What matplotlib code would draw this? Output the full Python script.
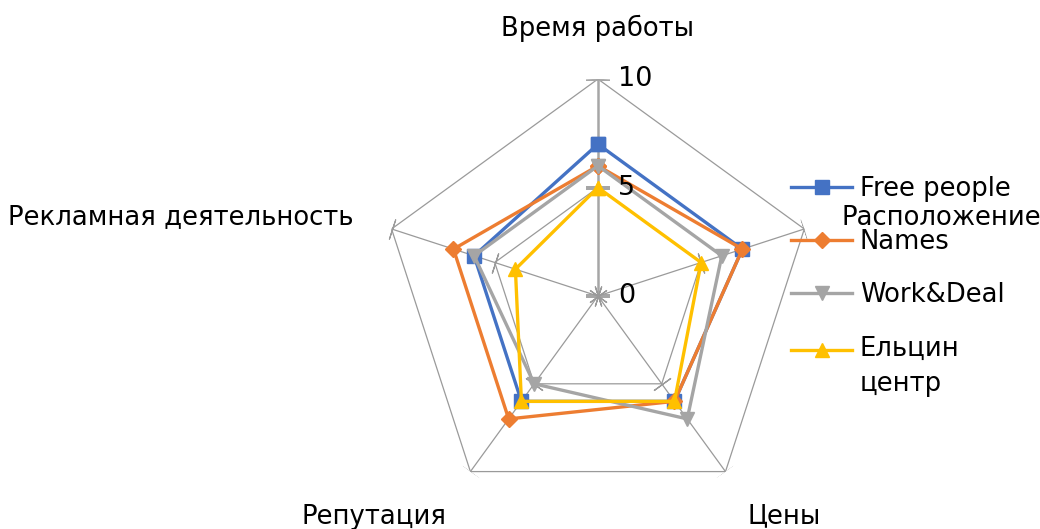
import numpy as np
import matplotlib
matplotlib.use("Agg")
import matplotlib.pyplot as plt
from matplotlib.transforms import offset_copy

categories = ["Время работы", "Расположение", "Цены", "Репутация", "Рекламная деятельность"]
series_names = ["Free people", "Names", "Work&Deal", "Ельцин центр"]
free_people = [7, 7, 6, 6, 6]
names = [6, 7, 6, 7, 7]
work_deal = [6, 6, 7, 5, 6]
yeltsin = [5, 5, 6, 6, 4]
r_ticks = [0, 5, 10]

colors = ["#4472C4", "#ED7D31", "#A5A5A5", "#FFC000"]
markers = ["s", "D", "v", "^"]
msizes = [10, 8, 10, 10]
grid_col = "#9A9A9A"

plt.rcParams["font.family"] = ["DejaVu Sans"]

fig = plt.figure(figsize=(10.4, 5.29), dpi=100)
ax = fig.add_axes([0.3663, 0.0302, 0.4173, 0.8204], projection="polar")
ax.set_theta_zero_location("N")
ax.set_theta_direction(-1)
ax.set_ylim(0, 10)
ax.grid(False)
ax.spines["polar"].set_visible(False)
ax.set_xticks([])
ax.set_yticks([])

n = len(categories)
ang = np.deg2rad(np.arange(n) * 360.0 / n)
ang_c = np.append(ang, ang[0])

# сетка-пятиугольники
for r in r_ticks[1:]:
    ax.plot(ang_c, [r] * (n + 1), color=grid_col, lw=0.9, zorder=1)
# оси и засечки
for i, a in enumerate(ang):
    deg = np.rad2deg(a)
    if i == 0:
        ax.plot([a, a], [0, r_ticks[-1]], color="#A6A6A6", lw=1.8, zorder=1)
        ax.plot([a] * len(r_ticks), r_ticks, ls="none", marker=(2, 2, 90),
                ms=17, mec="#A6A6A6", mew=1.5, zorder=1)
    else:
        ax.plot([a, a], [0, r_ticks[-1]], color=grid_col, lw=0.9, zorder=1)
        ax.plot([a] * len(r_ticks), r_ticks, ls="none", marker=(2, 2, 90 - deg),
                ms=15, mec=grid_col, mew=0.9, zorder=1)

# данные
all_vals = [free_people, names, work_deal, yeltsin]
for vals, name, c, m, ms in zip(all_vals, series_names, colors, markers, msizes):
    v = list(vals) + [vals[0]]
    ax.plot(ang_c, v, color=c, lw=2.4, marker=m, ms=ms, mfc=c, mec=c,
            label=name.replace(" центр", "\nцентр"), zorder=3, clip_on=False)

# подписи шкалы
tr = offset_copy(ax.transData, fig=fig, x=20, y=0, units="dots")
for r in r_ticks:
    ax.text(0, r, str(r), transform=tr, ha="left", va="center", fontsize=19.5)

# подписи категорий
fs = 18.6
ax.text(0, 12.35, categories[0], ha="center", va="center", fontsize=fs)
ax.text(np.deg2rad(72.3), 11.8, categories[1], ha="left", va="center", fontsize=fs)
ax.text(np.deg2rad(139.8), 13.3, categories[2], ha="center", va="center", fontsize=fs)
ax.text(np.deg2rad(225.5), 14.5, categories[3], ha="center", va="center", fontsize=fs)
ax.text(np.deg2rad(288), 11.85, categories[4], ha="right", va="center", fontsize=fs)

leg = ax.legend(loc="upper left", bbox_to_anchor=(0.761, 0.667), bbox_transform=fig.transFigure,
                frameon=False, fontsize=fs, handlelength=2.35, handletextpad=0.3,
                labelspacing=1.05, borderaxespad=0, borderpad=0)
for t in leg.get_texts():
    t.set_linespacing(1.45)
# маркер последней серии — на уровне первой строки
h = leg.legend_handles[3]
h.set_ydata(np.asarray(h.get_ydata()) + 12.5)

fig.savefig("out.png", dpi=100)
